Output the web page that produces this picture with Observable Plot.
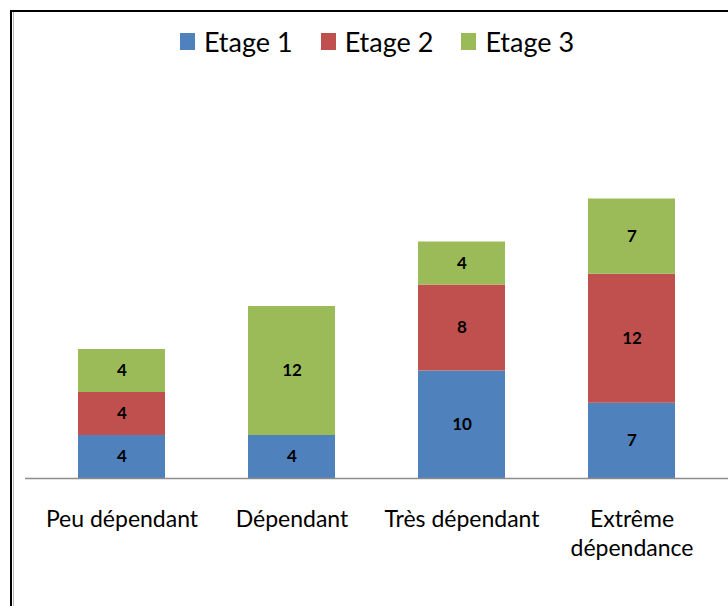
<!DOCTYPE html>
<html><head><meta charset="utf-8">
<script src="https://cdn.jsdelivr.net/npm/d3@7"></script>
<script src="https://cdn.jsdelivr.net/npm/@observablehq/plot@0.6"></script>
<style>
  html,body{margin:0;padding:0;background:#fff;overflow:hidden;}
  #frame{position:absolute;left:10px;top:10px;width:740px;height:620px;border-top:2px solid #000;border-left:2px solid #000;}
  #inner{margin-left:1px;border-left:1px solid #b8b8b8;height:100%;}
  #legend{height:58px;display:flex;justify-content:center;align-items:center;font-family:Lato,sans-serif;font-size:27px;color:#000;padding-right:12px;box-sizing:border-box;}
  .item{display:flex;align-items:center;margin:0 14px;}
  .sw{width:15px;height:17px;margin-right:9px;}
  #chart svg{display:block;}
</style>
</head><body>
<div id="frame"><div id="inner"><div id="legend"></div><div id="chart"></div></div></div>
<script>
const categories = ["Peu dépendant", "Dépendant", "Très dépendant", "Extrême\ndépendance"];
const series = ["Etage 1", "Etage 2", "Etage 3"];
const colors = ["#4F81BD", "#C0504D", "#9BBB59"];
const etage1 = [4, 4, 10, 7];
const etage2 = [4, 0, 8, 12];
const etage3 = [4, 12, 4, 7];

const valuesBySeries = [etage1, etage2, etage3];
const data = [];
series.forEach((s, i) => categories.forEach((c, j) => data.push({category: c, series: s, value: valuesBySeries[i][j]})));

const legend = document.getElementById("legend");
series.forEach((s, i) => {
  const it = document.createElement("div"); it.className = "item";
  const sw = document.createElement("div"); sw.className = "sw"; sw.style.background = colors[i];
  const t = document.createElement("span"); t.textContent = s;
  it.appendChild(sw); it.appendChild(t); legend.appendChild(it);
});

const plot = Plot.plot({
  width: 714,
  height: 536,
  marginTop: 85.5,
  marginBottom: 128,
  marginLeft: 11,
  marginRight: 0,
  x: {domain: categories, paddingInner: 0.489, paddingOuter: 0.3085, label: null},
  y: {domain: [0, 30], axis: null},
  color: {domain: series, range: colors},
  marks: [
    Plot.barY(data, {x: "category", y: "value", fill: "series", order: series}),
    Plot.text(data.filter(d => d.value > 0), Plot.stackY({x: "category", y: "value", z: "series", order: series, text: d => String(d.value), fill: "#000", fontWeight: "bold", fontSize: 17, fontFamily: "Lato, sans-serif"})),
    Plot.ruleY([0], {stroke: "#8c8c8c", strokeWidth: 1.5}),
    Plot.axisX({tickSize: 0, tickPadding: 28, fontSize: 23, lineHeight: 1.26, fontFamily: "Lato, sans-serif", fill: "#000", label: null})
  ]
});
plot.style.fontFamily = "Lato, sans-serif";
document.getElementById("chart").appendChild(plot);
</script>
</body></html>
